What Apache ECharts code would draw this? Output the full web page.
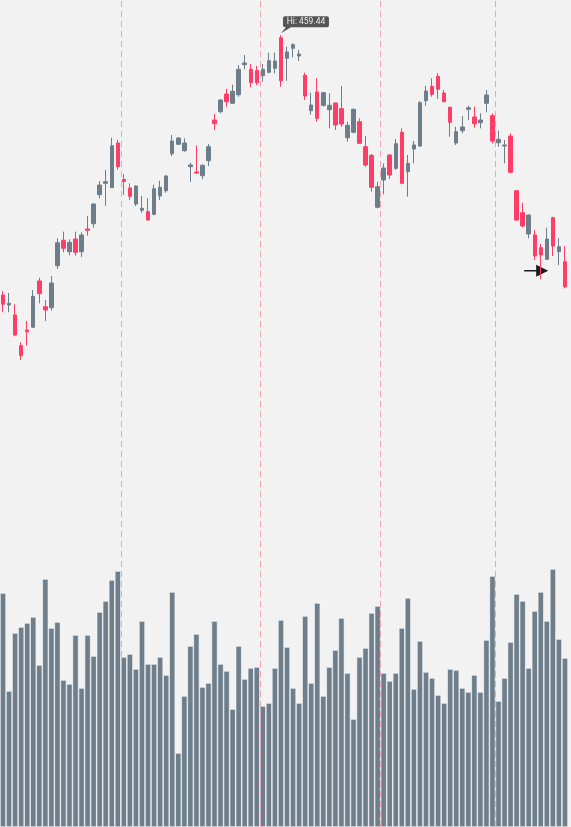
<!DOCTYPE html>
<html>
<head>
<meta charset="utf-8">
<script src="https://cdn.jsdelivr.net/npm/echarts@6/dist/echarts.min.js"></script>
<style>
html,body{margin:0;padding:0;background:#f2f2f2;}
#chart{width:571px;height:827px;}
</style>
</head>
<body>
<div id="chart"></div>
<script>
const opens = [380.82,377.80,374.78,365.50,370.24,371.06,385.05,377.28,376.98,389.68,
397.36,393.91,397.75,393.91,400.77,402.38,411.14,414.59,413.26,426.77,
415.74,413.17,408.33,406.43,406.00,405.22,410.75,412.35,423.54,426.38,
424.44,419.61,418.00,416.89,421.42,433.72,436.23,441.58,438.77,441.37,
450.44,449.05,448.69,447.12,448.14,449.35,458.60,452.38,455.40,453.07,
447.24,436.54,442.19,438.17,436.84,438.86,437.14,428.37,430.01,433.21,
425.65,423.05,407.33,415.59,423.14,419.12,430.01,418.10,424.96,425.86,
439.56,443.91,446.93,441.89,437.56,426.77,430.49,436.96,434.63,432.91,
438.77,435.02,426.86,425.86,428.89,412.35,405.70,399.26,398.96,395.12,
391.61,404.19,393.91,390.89];
const closes = [378.01,378.31,368.73,362.47,369.73,380.43,381.22,376.29,384.45,396.63,
394.94,396.75,393.73,398.96,400.38,408.33,414.07,415.07,425.95,419.61,
415.13,410.66,413.77,407.03,403.49,412.96,413.38,416.80,427.38,428.28,
426.77,420.12,417.70,420.03,425.65,432.61,439.77,439.26,442.40,449.05,
450.96,445.00,445.00,449.05,451.65,451.56,445.60,454.28,456.49,453.68,
440.98,438.26,434.24,441.98,438.17,432.21,432.51,432.12,436.96,426.68,
420.12,413.38,413.56,419.21,417.10,426.56,414.59,420.63,426.17,438.95,
442.49,441.49,443.00,439.26,433.03,430.19,431.61,437.44,432.61,433.72,
441.28,427.38,427.89,426.17,417.91,403.49,401.68,405.00,392.61,392.91,
397.75,395.63,395.42,383.33];
const lows = [375.59,375.59,368.34,361.17,365.50,370.94,378.31,372.96,376.08,388.68,
393.73,392.82,392.70,392.31,398.75,401.17,410.05,407.82,413.17,418.70,
411.05,409.54,407.73,405.70,403.28,404.91,409.54,411.75,422.84,426.17,
424.14,414.98,417.40,415.80,419.82,430.70,435.75,437.74,438.56,440.77,
449.05,443.61,444.30,445.30,447.84,447.84,443.79,445.60,452.68,451.56,
439.77,435.33,433.21,437.74,431.21,430.70,431.70,427.16,429.70,426.47,
419.61,412.05,407.03,411.26,415.89,418.61,414.29,410.54,420.63,425.65,
438.05,440.77,440.07,439.07,428.68,426.17,429.70,433.72,431.40,431.21,
436.05,426.68,425.65,420.63,417.61,403.28,401.29,397.96,391.40,385.57,
391.40,392.61,389.89,382.85];
const highs = [382.03,381.43,378.01,366.52,372.96,382.33,386.05,379.31,386.57,397.96,
399.96,397.66,399.96,399.78,404.70,408.54,415.28,418.61,428.37,427.77,
417.40,414.59,413.92,410.75,410.05,414.17,415.37,417.10,429.19,428.49,
428.19,420.81,426.08,420.33,426.47,435.54,439.98,443.19,444.40,450.35,
453.37,450.65,450.05,450.65,454.07,454.07,459.44,455.88,456.91,454.89,
448.02,441.98,446.33,442.28,441.80,438.95,444.00,433.21,437.20,434.24,
428.89,423.45,415.07,420.63,423.36,427.98,431.21,423.14,427.38,439.47,
444.09,446.33,447.93,442.79,437.74,431.70,434.93,438.05,437.74,435.75,
442.79,435.75,430.49,427.68,429.70,412.56,408.72,405.22,400.47,396.24,
401.17,404.49,397.96,395.63];
const volumes = [234,136,194,200,204,210,162,248,199,205,
147,143,192,139,192,171,215,226,247,256,
170,173,158,206,163,163,170,152,235,74,
131,181,193,140,144,206,163,156,118,181,
148,159,160,121,124,159,207,180,139,124,
211,144,224,131,160,177,209,154,108,170,
179,214,221,154,146,154,199,229,138,186,
155,149,132,124,158,157,139,135,152,135,
187,251,126,149,185,233,226,159,216,235,
206,258,188,169];
const monthStartIdx = [20, 43, 63, 82];
const highMark = { index: 46, value: 459.44, label: 'Hi: 459.44' };
const arrowMark = { index: 88, value: 388.17 };

const days = Array.from({ length: opens.length }, (_, i) => String(i + 1));
const candleData = opens.map((o, i) => [o, closes[i], lows[i], highs[i]]);

const UP = '#6d7e8a';
const DOWN = '#ff3d67';

const hiddenAxis = {
  axisLine: { show: false }, axisTick: { show: false }, axisLabel: { show: false },
  splitLine: { show: false }
};

const chart = echarts.init(document.getElementById('chart'), null, { renderer: 'canvas' });
chart.setOption({
  backgroundColor: '#f2f2f2',
  animation: false,
  grid: [
    { left: 0, right: 3, top: 0, bottom: 0 },
    { left: 0, right: 3, top: 567, bottom: 0 }
  ],
  xAxis: [
    Object.assign({ type: 'category', gridIndex: 0, data: days, boundaryGap: true }, hiddenAxis),
    Object.assign({ type: 'category', gridIndex: 1, data: days, boundaryGap: true }, hiddenAxis),
    // band-edge axis for month separators: 0..N maps onto the category band edges
    Object.assign({ type: 'value', gridIndex: 0, min: 0, max: days.length, show: false }, hiddenAxis)
  ],
  yAxis: [
    Object.assign({ type: 'value', gridIndex: 0, min: 220, max: 470, show: false }, hiddenAxis),
    Object.assign({ type: 'value', gridIndex: 1, min: 0, max: 260, show: false }, hiddenAxis)
  ],
  series: [
    {
      type: 'bar', xAxisIndex: 1, yAxisIndex: 1, data: volumes,
      barCategoryGap: '0%', z: 1,
      itemStyle: { color: '#6e7f8b', borderColor: '#ffffff', borderWidth: 0.6 }
    },
    {
      type: 'scatter', xAxisIndex: 2, yAxisIndex: 0, data: [], z: 5, silent: true,
      markLine: {
        silent: true, animation: false, symbol: ['none', 'none'],
        label: { show: false },
        lineStyle: { color: '#f2a2b4', width: 1, type: [6, 4] },
        data: monthStartIdx.map(i => ({ xAxis: i }))
      }
    },
    {
      type: 'candlestick', xAxisIndex: 0, yAxisIndex: 0, data: candleData,
      barWidth: 4, z: 6,
      itemStyle: { color: UP, color0: DOWN, borderColor: UP, borderColor0: DOWN, borderWidth: 1 },
      markPoint: {
        animation: false,
        data: [
          {
            coord: [highMark.index, highMark.value],
            symbol: 'path://M2,0 L46,0 Q48,0 48,2 L48,9 Q48,11 46,11 L10,11 L0,17 L5,11 L4,11 Q2,11 2,9 L2,2 Q2,0 4,0 Z',
            symbolSize: [48, 17],
            symbolKeepAspect: false,
            symbolOffset: [24, -10.2],
            itemStyle: { color: '#555555' },
            label: {
              show: true, position: 'inside', formatter: highMark.label,
              color: '#eeeeee', fontSize: 8.5, fontFamily: 'Roboto, sans-serif', offset: [1, -3]
            }
          },
          {
            coord: [arrowMark.index, arrowMark.value],
            symbol: 'path://M0,5.3 L12,5.3 L12,0 L24,6 L12,12 L12,6.7 L0,6.7 Z',
            symbolSize: [24, 12],
            symbolKeepAspect: false,
            symbolOffset: [1.4, 0],
            itemStyle: { color: '#1c1c1c' },
            label: { show: false }
          }
        ]
      }
    }
  ]
});
</script>
</body>
</html>
